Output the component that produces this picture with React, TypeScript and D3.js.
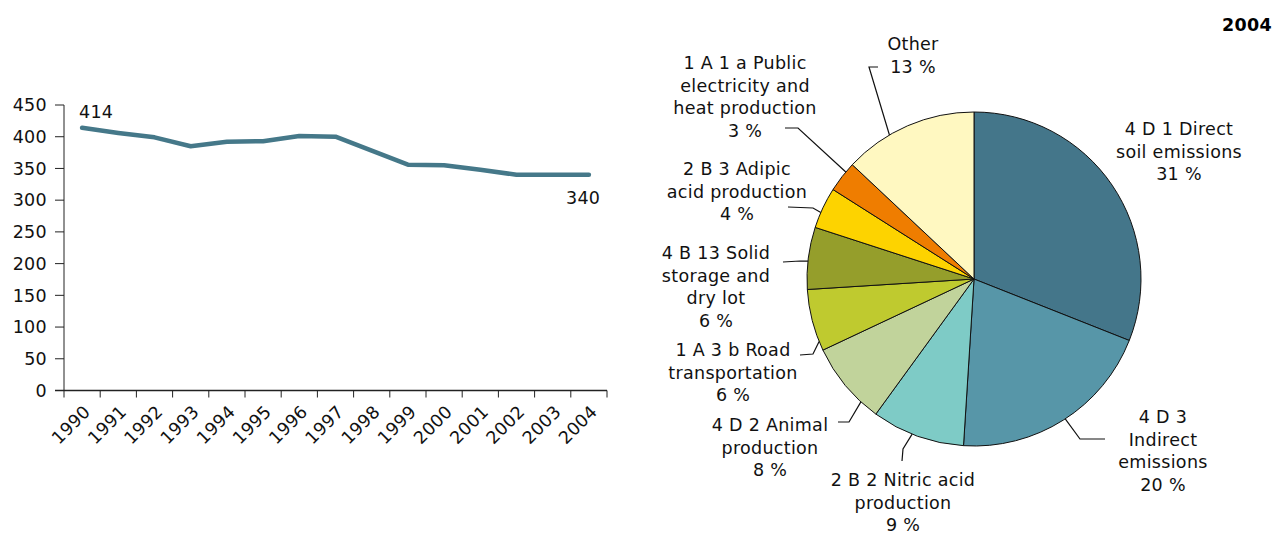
import * as d3 from "d3";

const years = ["1990", "1991", "1992", "1993", "1994", "1995", "1996", "1997", "1998", "1999", "2000", "2001", "2002", "2003", "2004"];
const emissions = [414, 406, 399, 385, 392, 393, 401, 400, 378, 356, 355, 348, 340, 340, 340];
const yTicks = [0, 50, 100, 150, 200, 250, 300, 350, 400, 450];

const sectorNames = [
  ["4 D 1 Direct", "soil emissions"],
  ["4 D 3", "Indirect", "emissions"],
  ["2 B 2 Nitric acid", "production"],
  ["4 D 2 Animal", "production"],
  ["1 A 3 b Road", "transportation"],
  ["4 B 13 Solid", "storage and", "dry lot"],
  ["2 B 3 Adipic", "acid production"],
  ["1 A 1 a Public", "electricity and", "heat production"],
  ["Other"],
];
const sectorShares = [31, 20, 9, 8, 6, 6, 4, 3, 13];
const sectorColors = ["#44768a", "#5796a8", "#7ecbc6", "#c1d39b", "#bfca2f", "#959e2b", "#fdd300", "#ef7d00", "#fff8c1"];

// where each label sits and how its leader bends (frac = where along the slice edge it hits)
const labelLayout = [
  { x: 1179, y: 129, frac: null, bend: [] },
  { x: 1163, y: 417, frac: 0.49, bend: [[1105, 439], [1080, 439]] },
  { x: 903, y: 480, frac: 0.56, bend: [[902, 461], [903, 449]] },
  { x: 770, y: 425, frac: 0.23, bend: [[838, 422], [849, 422]] },
  { x: 733, y: 350, frac: 0.15, bend: [[800, 355], [813, 354]] },
  { x: 716, y: 253, frac: 0.45, bend: [[783, 262], [800, 261]] },
  { x: 737, y: 169, frac: 0.38, bend: [[788, 207], [813, 208]] },
  { x: 745, y: 63, frac: 0.69, bend: [[785, 128], [798, 128]] },
  { x: 913, y: 44, frac: 0.35, bend: [[878, 67], [869, 67]] },
];

const font = "'DejaVu Sans', Verdana, sans-serif";
const fs = 17.5;
const ls = 0.3;
const lineH = 22.5;

export default function App() {
  const width = 1275;
  const height = 534;

  // line chart
  const left = 64, right = 607, top = 105, bottom = 390.5;
  const x = d3.scaleBand(years, [left, right]);
  const y = d3.scaleLinear([0, 450], [bottom, top]);
  const line = d3
    .line<number>()
    .x((d, i) => x(years[i])! + x.bandwidth() / 2)
    .y((d) => y(d));
  const tickXs = [...years.map((yr) => x(yr)!), right];

  // pie
  const cx = 974, cy = 279, r = 167;
  const pie = d3.pie<number>().sort(null).value((d) => d)(sectorShares);
  const arc = d3.arc<d3.PieArcDatum<number>>().innerRadius(0).outerRadius(r);
  const edgePoint = (a: number) => [cx + r * Math.sin(a), cy - r * Math.cos(a)];

  return (
    <svg
      width={width}
      height={height}
      style={{ position: "absolute", left: 0, top: 0, background: "#fff" }}
      fontFamily={font}
      fontSize={fs}
      letterSpacing={ls}
    >
      {/* y axis */}
      <line x1={left} x2={left} y1={top} y2={bottom} stroke="#222" />
      {yTicks.map((t) => (
        <g key={t}>
          <line x1={left - 9} x2={left} y1={y(t)} y2={y(t)} stroke="#222" />
          <text x={left - 17} y={y(t)} dy="0.36em" textAnchor="end" fill="#111">
            {t}
          </text>
        </g>
      ))}
      {/* x axis */}
      <line x1={left - 9} x2={right} y1={bottom} y2={bottom} stroke="#222" strokeWidth={1.5} />
      {tickXs.map((tx, i) => (
        <line key={i} x1={tx} x2={tx} y1={bottom} y2={bottom + 7} stroke="#222" />
      ))}
      {years.map((yr) => {
        const px = x(yr)! + x.bandwidth() / 2 + 5;
        return (
          <text key={yr} transform={`translate(${px},${bottom + 18}) rotate(-45)`} textAnchor="end" dy="0.35em" fill="#111">
            {yr}
          </text>
        );
      })}
      <path d={line(emissions)!} fill="none" stroke="#457889" strokeWidth={4.5} strokeLinejoin="round" strokeLinecap="round" />
      <text x={79} y={112} dy="0.36em" fill="#111">
        {emissions[0]}
      </text>
      <text x={566} y={198} dy="0.36em" fill="#111">
        {emissions[emissions.length - 1]}
      </text>

      {/* pie */}
      <g transform={`translate(${cx},${cy})`}>
        {pie.map((p, i) => (
          <path key={i} d={arc(p)!} fill={sectorColors[i]} stroke="#111" strokeWidth={1} strokeLinejoin="round" />
        ))}
      </g>
      {pie.map((p, i) => {
        const lay = labelLayout[i];
        const lines = [...sectorNames[i], `${sectorShares[i]} %`];
        let leader = null;
        if (lay.frac !== null) {
          const a = p.startAngle + lay.frac * (p.endAngle - p.startAngle);
          const pts = [...lay.bend, edgePoint(a)];
          leader = <path d={d3.line()(pts as [number, number][])!} fill="none" stroke="#111" strokeWidth={1.2} />;
        }
        return (
          <g key={i}>
            {leader}
            {lines.map((t, j) => (
              <text key={j} x={lay.x} y={lay.y + j * lineH} dy="0.36em" textAnchor="middle" fill="#111">
                {t}
              </text>
            ))}
          </g>
        );
      })}
      <text x={1272} y={25} dy="0.36em" textAnchor="end" fontWeight="bold" fill="#000">
        2004
      </text>
    </svg>
  );
}
